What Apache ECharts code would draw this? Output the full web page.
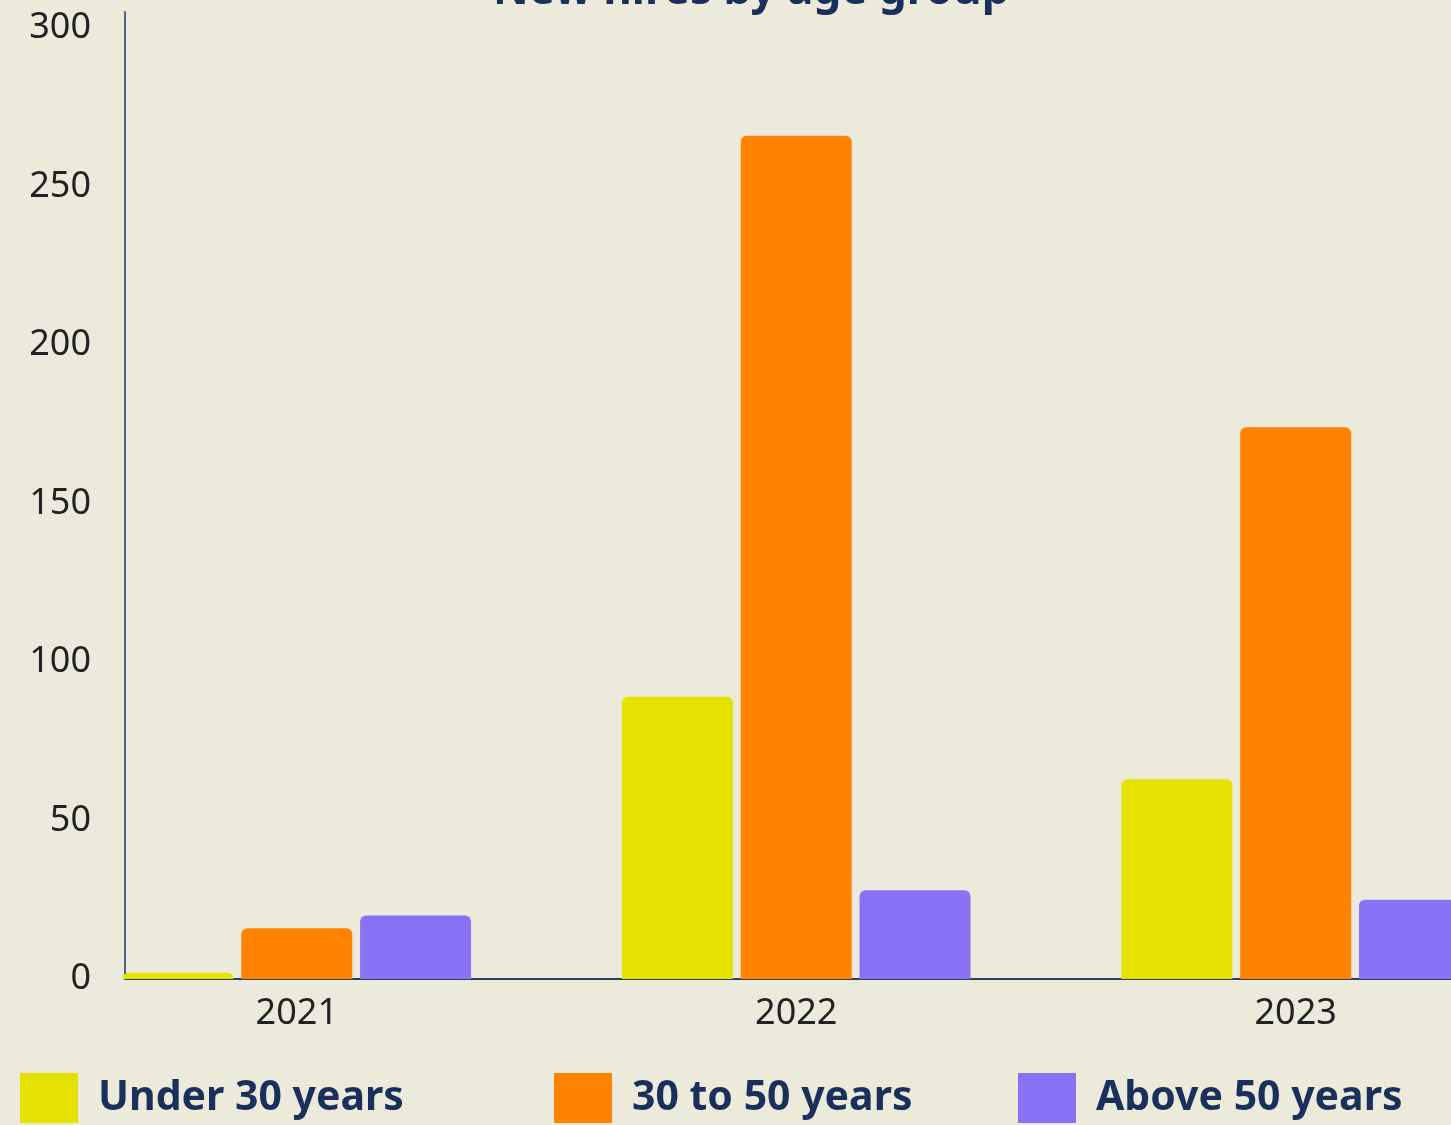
<!DOCTYPE html>
<html>
<head>
<meta charset="utf-8">
<script src="https://cdn.jsdelivr.net/npm/echarts@6/dist/echarts.min.js"></script>
<style>
  html, body { margin: 0; padding: 0; background: #ECEBDB; }
  #chart { width: 1451px; height: 1125px; }
</style>
</head>
<body>
<div id="chart"></div>
<script>
// New hires by age group, 2021–2023
const years = [2021, 2022, 2023];
const under30 = [2, 89, 63];
const from30to50 = [16, 266, 174];
const above50 = [20, 28, 25];
const yTicks = [0, 50, 100, 150, 200, 250, 300];

const seriesNames = ['Under 30 years', '30 to 50 years', 'Above 50 years'];
const seriesColors = ['#E5E200', '#FF8200', '#8A72F7'];
const navy = '#1B2F5C';
const font = '"Noto Sans", "Open Sans", sans-serif';

function pairs(values) {
  return years.map((y, i) => [y, values[i]]);
}

const chart = echarts.init(document.getElementById('chart'), null, { renderer: 'canvas' });

const legendLefts = [20, 554, 1018];

chart.setOption({
  backgroundColor: '#ECEBDB',
  animation: false,
  title: {
    text: 'New hires by age group',
    left: 493,
    top: -31,
    padding: 0,
    textStyle: { fontFamily: font, fontSize: 44, fontWeight: 'bold', color: navy }
  },
  legend: seriesNames.map((name, i) => ({
    data: [name],
    left: legendLefts[i],
    top: 1073,
    padding: 0,
    icon: 'rect',
    itemWidth: 58,
    itemHeight: 50,
    textStyle: {
      fontFamily: font, fontSize: 41, fontWeight: 'bold', color: navy,
      padding: [12, 0, 0, 15]
    }
  })),
  grid: { left: 125, right: 0, top: 12, bottom: 146, containLabel: false },
  xAxis: {
    type: 'value',
    min: 2020.656,
    max: 2023.311,
    splitLine: { show: false },
    axisLine: { show: true, lineStyle: { color: '#2A3E66', width: 2 } },
    axisTick: { show: false },
    axisLabel: {
      customValues: years,
      formatter: v => String(Math.round(v)),
      margin: 17,
      fontFamily: font, fontSize: 36, color: '#222222'
    }
  },
  yAxis: {
    type: 'value',
    min: 0,
    max: 305,
    interval: 50,
    splitLine: { show: false },
    axisLine: { show: true, lineStyle: { color: '#4C6488', width: 2 } },
    axisTick: { show: false },
    axisLabel: {
      customValues: yTicks,
      margin: 34,
      fontFamily: font, fontSize: 36, color: '#222222'
    }
  },
  series: [under30, from30to50, above50].map((vals, i) => ({
    type: 'bar',
    name: seriesNames[i],
    data: pairs(vals),
    barWidth: 111,
    barGap: '7%',
    clip: true,
    itemStyle: { color: seriesColors[i], borderRadius: [6, 6, 0, 0] }
  }))
});
</script>
</body>
</html>
